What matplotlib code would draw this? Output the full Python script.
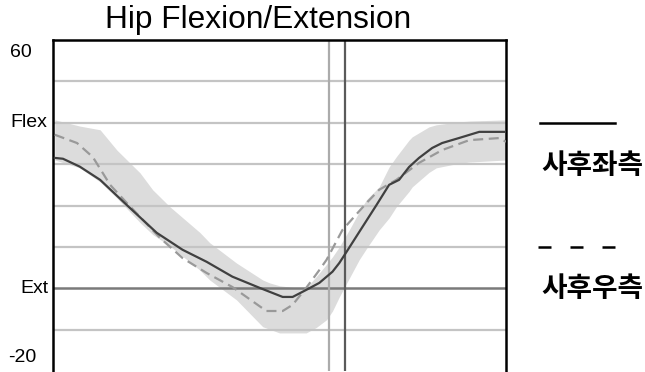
import matplotlib
matplotlib.use('Agg')
import matplotlib.pyplot as plt
from matplotlib.lines import Line2D
from matplotlib.transforms import blended_transform_factory

# gait cycle (%) and hip angle (deg)
left_x = [0.4, 2.2, 5.9, 10.4, 16.3, 22.9, 28.6, 33.9, 39.6, 45.6, 50.7, 52.9,
          55.9, 58.8, 61.7, 63.2, 64.8, 68.3, 71.4, 74.2, 76.4, 78.6, 80.8,
          83.7, 85.9, 89.6, 94.1, 100]
left_y = [31.5, 31.3, 29.4, 26.2, 20.1, 13.4, 9.3, 6.4, 2.8, 0.1, -2.1, -2.1,
          -0.4, 1.3, 4.0, 6.1, 8.8, 14.8, 20.1, 25.0, 26.2, 29.3, 31.5,
          33.9, 35.1, 36.3, 37.8, 37.8]

right_x = [0.4, 5.3, 8.8, 12.6, 16.3, 23.6, 28.6, 33.9, 39.6, 47.1, 50.7, 52.9,
           55.9, 58.8, 60.4, 63.9, 69.2, 72.0, 75.8, 80.8, 85.9, 91.9, 98.5, 100]
right_y = [37.1, 35.1, 31.7, 25.0, 20.6, 12.2, 7.3, 3.7, 0.3, -5.5, -5.5, -4.0,
           0.1, 4.4, 6.9, 14.1, 20.6, 23.8, 26.2, 30.3, 33.4, 35.8, 36.3, 35.4]

band_x = [0.4, 5.9, 10.4, 14.1, 19.2, 22.0, 25.8, 32.4, 34.6, 40.5, 46.3, 47.8,
          50.0, 53.7, 55.9, 58.1, 60.4, 61.7, 63.2, 65.4, 67.6, 69.2, 72.0,
          74.2, 75.8, 78.6, 79.3, 83.0, 84.6, 89.6, 91.9, 100]
band_hi = [40.7, 39.2, 38.3, 33.4, 27.9, 23.8, 19.7, 13.5, 11.0, 6.1, 2.0, 1.3,
           0.6, 0.1, 0.1, 2.8, 5.8, 7.6, 10.0, 14.1, 18.5, 21.4, 24.5,
           29.3, 31.8, 35.8, 36.6, 39.0, 39.5, 40.2, 40.4, 40.7]
band_lo = [31.0, 29.1, 25.7, 21.8, 15.9, 13.0, 10.2, 4.4, 2.0, -2.8, -9.3, -9.9,
           -10.8, -10.8, -10.8, -9.5, -7.6, -5.5, -2.1, 2.4, 6.9, 9.6, 14.1,
           17.0, 19.7, 23.4, 24.5, 28.0, 29.1, 30.2, 30.5, 31.0]

grid_vals = [50, 40, 30, 20, 10, -10]
event_x = [61, 64.5]
ytick_labels = ['60', 'Flex', 'Ext', '-20']
ytick_vals = [57, 40, 0, -16.8]
ytick_left = [10, 10, 20, 8]   # pixel x where each label starts

W, H = 645, 372
fig = plt.figure(figsize=(W / 100, H / 100), dpi=100)
ax = fig.add_axes([53 / W, 1 / H, (506 - 53) / W, 331 / H])

ax.fill_between(band_x, band_lo, band_hi, color='#dcdcdc', lw=0, zorder=1)
for g in grid_vals:
    ax.axhline(g, color='#c4c4c4', lw=1.6, zorder=2)
ax.axhline(0, color='#7a7a7a', lw=1.8, zorder=2)
ax.axvline(event_x[0], color='#ababab', lw=1.6, zorder=2)
ax.axvline(event_x[1], color='#5a5a5a', lw=1.6, zorder=2)

ax.plot(right_x, right_y, color='#999999', lw=1.6, dashes=(4.5, 2.5), zorder=3)
ax.plot(left_x, left_y, color='#404040', lw=1.6, zorder=4)

ax.set_xlim(0, 100)
ax.set_ylim(-20, 60)
ax.set_xticks([])
ax.set_yticks([])
for s in ['left', 'top', 'right']:
    ax.spines[s].set_linewidth(1.8)
    ax.spines[s].set_color('black')
ax.spines['bottom'].set_visible(False)

trans = blended_transform_factory(fig.transFigure, ax.transData)
for lab, v, xl in zip(ytick_labels, ytick_vals, ytick_left):
    fig.text(xl / W, v, lab, ha='left', va='center', fontsize=14,
             family='Liberation Sans', transform=trans)

fig.text(258 / W, 1 - 20 / H, 'Hip Flexion/Extension', ha='center', va='center',
         fontsize=22.8, family='Liberation Sans')

# legend on the right
fig.add_artist(Line2D([540 / W, 615 / W], [1 - 123 / H] * 2, color='black',
                      lw=1.8, transform=fig.transFigure))
fig.add_artist(Line2D([538 / W, 615 / W], [1 - 247 / H] * 2, color='black',
                      lw=1.8, dashes=(5.2, 7.6), transform=fig.transFigure))
fig.text(541 / W, 1 - 166 / H, '사후좌측', ha='left', va='center', fontsize=20,
         fontweight='bold', family='Noto Sans CJK KR')
fig.text(541 / W, 1 - 289 / H, '사후우측', ha='left', va='center', fontsize=20,
         fontweight='bold', family='Noto Sans CJK KR')

fig.savefig('out.png', dpi=100)
